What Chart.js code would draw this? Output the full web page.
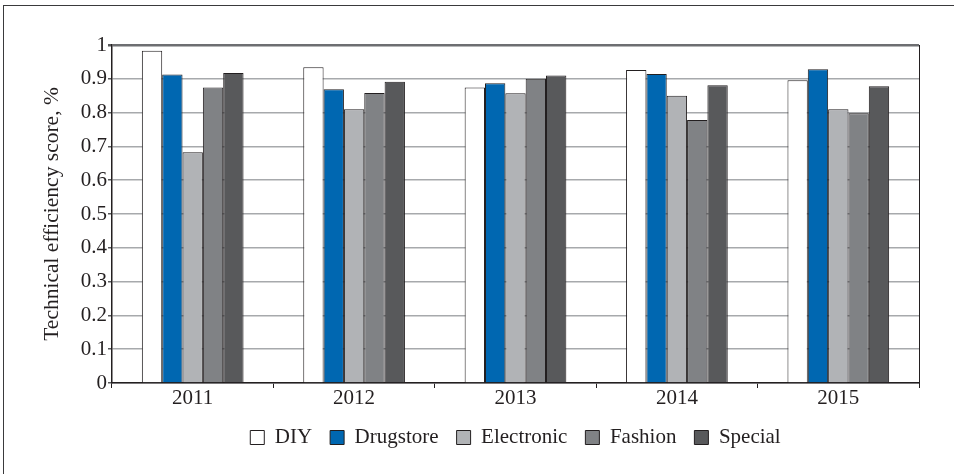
<!DOCTYPE html>
<html>
<head>
<meta charset="utf-8">
<script src="https://cdn.jsdelivr.net/npm/chart.js@4/dist/chart.umd.min.js"></script>
<style>
  html, body { margin: 0; padding: 0; background: #fff; }
  #wrap { position: relative; width: 954px; height: 474px; overflow: hidden; }
  #frame { position: absolute; left: 3px; top: 5px; width: 1000px; height: 500px;
           border-top: 1.5px solid #3a3a3c; border-left: 1.5px solid #3a3a3c; }
  canvas { position: absolute; left: 0; top: 0; }
  #warm { position: absolute; left: -999px; font: 20px "Liberation Serif"; }
</style>
</head>
<body>
<div id="wrap">
  <div id="frame"></div>
  <canvas id="efficiency" width="954" height="474"></canvas>
</div>
<span id="warm">Technical efficiency 0123456789</span>
<script>
const years = ["2011", "2012", "2013", "2014", "2015"];
const diy        = [0.983, 0.934, 0.874, 0.926, 0.896];
const drugstore  = [0.913, 0.869, 0.887, 0.914, 0.928];
const electronic = [0.683, 0.810, 0.857, 0.850, 0.810];
const fashion    = [0.874, 0.858, 0.900, 0.778, 0.798];
const special    = [0.917, 0.891, 0.910, 0.881, 0.878];

const serif = '"Liberation Serif", "Times New Roman", Times, serif';
const ink = "#231f20";

function bars(label, data, color) {
  return {
    label: label,
    data: data,
    backgroundColor: color,
    borderColor: ink,
    borderWidth: 1,
    barPercentage: 1,
    categoryPercentage: 0.63
  };
}

function draw() {
  new Chart("efficiency", {
    type: "bar",
    data: {
      labels: years,
      datasets: [
        bars("DIY", diy, "#ffffff"),
        bars("Drugstore", drugstore, "#0067b1"),
        bars("Electronic", electronic, "#b1b3b6"),
        bars("Fashion", fashion, "#808285"),
        bars("Special", special, "#58595b")
      ]
    },
    options: {
      responsive: false,
      animation: false,
      font: { family: serif },
      layout: { padding: { left: 30, right: 35, top: 45, bottom: 16 } },
      plugins: {
        tooltip: { enabled: false },
        legend: {
          position: "bottom",
          fullSize: false,
          labels: {
            font: { family: serif, size: 21, lineHeight: 1 },
            color: ink,
            boxWidth: 14,
            boxHeight: 14,
            padding: 18
          }
        }
      },
      scales: {
        x: {
          grid: {
            drawOnChartArea: false,
            offset: true,
            tickLength: 5,
            color: ink,
            lineWidth: 1
          },
          border: { color: ink, width: 1.5 },
          ticks: { font: { family: serif, size: 21, lineHeight: 1 }, color: ink, padding: 0 }
        },
        y: {
          min: 0,
          max: 1,
          ticks: {
            stepSize: 0.1,
            font: { family: serif, size: 21 },
            color: ink,
            padding: 1,
            callback: function (v) { return Math.round(v * 10) / 10; }
          },
          grid: {
            color: function (c) { return c.tick && c.tick.value === 1 ? "#6d6e71" : "#a7a9ac"; },
            lineWidth: function (c) { return c.tick && c.tick.value === 1 ? 2.5 : 1.5; },
            tickColor: "#58595b",
            tickLength: 4
          },
          border: { color: ink, width: 1.5 },
          title: {
            display: true,
            text: "Technical efficiency score, %",
            font: { family: serif, size: 21.5 },
            color: ink,
            padding: { top: 9, bottom: 0 }
          },
          afterFit: function (scale) { scale.width = 82; }
        },
        y2: {
          position: "right",
          min: 0,
          max: 1,
          ticks: { display: false },
          grid: { drawOnChartArea: false, drawTicks: false },
          border: { color: ink, width: 1 },
          afterFit: function (scale) { scale.width = 0; }
        }
      }
    }
  });
}

if (document.fonts && document.fonts.load) {
  document.fonts.load('20px "Liberation Serif"').then(draw, draw);
} else {
  draw();
}
</script>
</body>
</html>
